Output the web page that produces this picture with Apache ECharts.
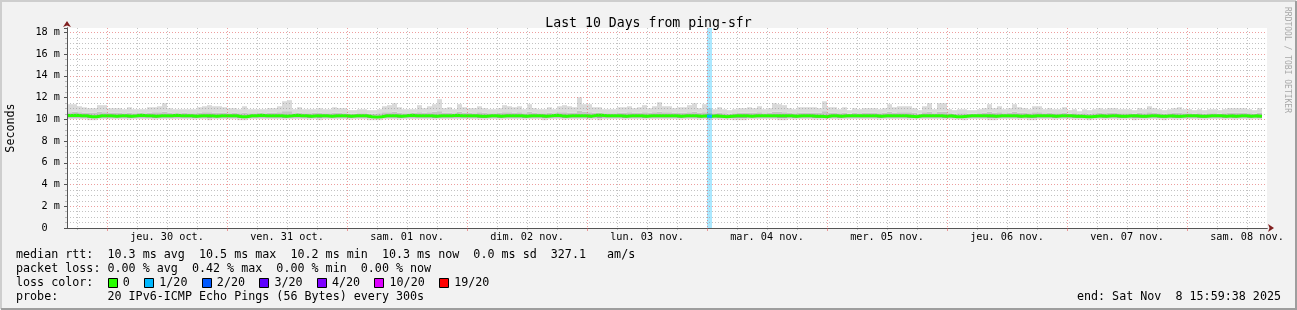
<!DOCTYPE html>
<html><head><meta charset="utf-8">
<script src="https://cdn.jsdelivr.net/npm/echarts@6/dist/echarts.min.js"></script>
<style>html,body{margin:0;padding:0;background:#f2f2f2;overflow:hidden}#c{width:1297px;height:310px}</style>
</head><body><div id="c"></div>
<script>
// ---------------- data ----------------
const chartTitle = 'Last 10 Days from ping-sfr';
const yAxisName = 'Seconds';
const dayLabels = ['jeu. 30 oct.', 'ven. 31 oct.', 'sam. 01 nov.', 'dim. 02 nov.', 'lun. 03 nov.',
  'mar. 04 nov.', 'mer. 05 nov.', 'jeu. 06 nov.', 'ven. 07 nov.', 'sam. 08 nov.'];
const startHourOfDay = 16;      // graph starts Wed 29 Oct ~16:00
const spanHours = 240;          // 10 days
const yMaxMs = 18.4;
const yStepMs = 2;

// hourly smoke (ms): top, upper-dense, lower-dense, bottom; median rtt
const smokeHi = [
 11.39,11.39,11.2,11.1,11.02,11.02,11.3,11.3,11.02,11.02,
 11.02,10.93,11.11,10.93,10.93,10.93,11.11,11.11,11.2,11.48,
 11.02,10.93,10.93,10.93,10.93,10.93,11.11,11.2,11.3,11.2,
 11.2,11.11,11.02,11.02,10.93,11.2,10.93,10.93,10.93,10.93,
 11.02,11.02,11.2,11.66,11.76,10.93,11.11,10.93,10.93,10.93,
 11.02,10.93,10.93,11.11,11.02,11.02,10.84,10.84,10.93,10.93,
 10.84,10.84,10.93,11.2,11.3,11.48,11.11,10.93,10.93,10.93,
 11.3,11.02,11.2,11.39,11.85,11.02,11.11,10.93,11.39,11.11,
 11.02,11.02,11.2,11.02,10.93,10.93,11.02,11.3,11.2,11.11,
 11.2,10.93,11.39,11.02,10.93,10.93,11.11,10.93,11.2,11.3,
 11.2,11.11,12.03,11.39,11.39,11.11,11.11,10.93,10.93,10.93,
 11.11,11.11,11.2,11.02,11.11,11.3,11.02,11.2,11.57,11.2,
 11.2,11.02,11.11,11.11,11.3,11.48,11.02,11.39,11.02,10.93,
 11.11,10.93,10.84,10.93,11.02,11.02,11.11,11.02,11.2,10.93,
 11.02,11.48,11.39,11.3,11.02,10.93,11.11,11.11,11.11,11.11,
 11.02,11.66,11.11,11.11,10.93,11.11,10.84,11.02,10.93,11.02,
 11.02,11.02,10.93,11.02,11.39,11.11,11.2,11.2,11.2,11.02,
 10.84,11.2,11.48,10.93,11.48,11.48,10.93,10.84,10.93,10.93,
 10.84,10.84,10.93,11.02,11.39,11.02,11.2,10.93,11.02,11.39,
 11.11,11.02,10.93,11.2,11.2,10.93,11.02,10.93,10.93,11.11,
 10.84,10.93,10.74,10.93,10.84,10.93,11.02,10.93,11.02,11.02,
 10.93,10.93,10.93,10.84,11.02,10.93,11.2,11.02,10.93,10.84,
 10.93,11.02,11.11,10.93,10.93,10.84,10.93,10.84,10.93,10.93,
 10.84,10.93,11.02,11.02,11.02,11.02,10.93,10.84,11.02];
const smokeQ3 = [
 10.65,10.7,10.65,10.6,10.6,10.6,10.7,10.65,10.6,10.6,
 10.6,10.56,10.6,10.56,10.6,10.56,10.6,10.65,10.65,10.7,
 10.6,10.56,10.56,10.6,10.56,10.56,10.6,10.65,10.65,10.6,
 10.6,10.6,10.56,10.6,10.56,10.6,10.56,10.56,10.6,10.56,
 10.6,10.6,10.65,10.75,10.75,10.56,10.6,10.56,10.56,10.6,
 10.6,10.56,10.56,10.6,10.6,10.56,10.52,10.52,10.56,10.56,
 10.52,10.52,10.56,10.65,10.65,10.7,10.6,10.56,10.56,10.6,
 10.65,10.6,10.65,10.7,10.75,10.6,10.6,10.56,10.7,10.6,
 10.6,10.56,10.65,10.6,10.56,10.56,10.6,10.65,10.65,10.6,
 10.65,10.56,10.7,10.6,10.56,10.56,10.6,10.56,10.65,10.65,
 10.6,10.6,10.8,10.7,10.65,10.6,10.6,10.56,10.56,10.56,
 10.6,10.6,10.65,10.6,10.6,10.65,10.6,10.65,10.7,10.65,
 10.65,10.6,10.6,10.6,10.65,10.7,10.6,10.65,10.6,10.56,
 10.6,10.56,10.52,10.56,10.6,10.6,10.6,10.6,10.65,10.56,
 10.6,10.7,10.7,10.65,10.6,10.56,10.6,10.6,10.6,10.6,
 10.6,10.75,10.6,10.6,10.56,10.6,10.52,10.6,10.56,10.6,
 10.6,10.6,10.56,10.6,10.7,10.6,10.65,10.65,10.65,10.6,
 10.52,10.65,10.7,10.56,10.7,10.7,10.56,10.52,10.56,10.56,
 10.52,10.52,10.56,10.6,10.7,10.6,10.65,10.56,10.6,10.7,
 10.6,10.6,10.56,10.65,10.65,10.56,10.6,10.56,10.56,10.6,
 10.52,10.56,10.5,10.56,10.52,10.56,10.6,10.56,10.6,10.6,
 10.56,10.56,10.56,10.52,10.6,10.56,10.65,10.6,10.56,10.52,
 10.56,10.6,10.6,10.56,10.56,10.52,10.56,10.52,10.56,10.56,
 10.52,10.56,10.6,10.6,10.6,10.6,10.56,10.52,10.6];
const smokeQ1 = [
 10.15,10.15,10.15,10.15,10.1,10.1,10.15,10.15,10.15,10.15,
 10.15,10.15,10.12,10.15,10.15,10.15,10.15,10.12,10.15,10.15,
 10.15,10.15,10.15,10.15,10.15,10.12,10.15,10.15,10.1,10.15,
 10.15,10.15,10.15,10.15,10.1,10.1,10.15,10.15,10.15,10.15,
 10.15,10.15,10.15,10.12,10.15,10.15,10.15,10.15,10.12,10.15,
 10.1,10.15,10.15,10.15,10.15,10.15,10.12,10.15,10.15,10.15,
 10.1,10.1,10.1,10.15,10.15,10.15,10.12,10.15,10.15,10.15,
 10.15,10.15,10.15,10.12,10.15,10.15,10.15,10.15,10.15,10.15,
 10.15,10.15,10.12,10.12,10.15,10.15,10.12,10.15,10.15,10.15,
 10.15,10.12,10.15,10.15,10.15,10.1,10.15,10.15,10.15,10.12,
 10.15,10.15,10.15,10.15,10.12,10.15,10.1,10.15,10.15,10.15,
 10.15,10.12,10.15,10.15,10.15,10.12,10.15,10.15,10.15,10.15,
 10.15,10.15,10.12,10.15,10.15,10.15,10.12,10.15,10.12,10.15,
 10.12,10.12,10.12,10.1,10.1,10.1,10.15,10.15,10.15,10.15,
 10.15,10.15,10.1,10.1,10.15,10.12,10.15,10.15,10.15,10.12,
 10.12,10.12,10.15,10.15,10.12,10.15,10.15,10.15,10.15,10.15,
 10.15,10.15,10.12,10.15,10.15,10.15,10.15,10.15,10.12,10.12,
 10.15,10.15,10.15,10.15,10.15,10.12,10.15,10.12,10.12,10.1,
 10.15,10.15,10.15,10.15,10.1,10.1,10.15,10.15,10.15,10.15,
 10.12,10.15,10.1,10.1,10.15,10.15,10.15,10.12,10.15,10.15,
 10.15,10.12,10.12,10.12,10.1,10.12,10.15,10.12,10.15,10.15,
 10.12,10.12,10.15,10.1,10.12,10.12,10.15,10.15,10.12,10.1,
 10.15,10.12,10.12,10.15,10.15,10.15,10.12,10.12,10.15,10.15,
 10.15,10.12,10.15,10.12,10.15,10.15,10.12,10.15,10.12];
const smokeLo = [
 10.01,10.01,10.01,10.01,9.92,9.92,10.01,10.01,10.01,10.01,
 10.01,10.01,9.97,10.01,10.01,10.01,10.01,9.97,10.01,10.01,
 10.01,10.01,10.01,10.01,10.01,9.97,10.01,10.01,9.92,10.01,
 10.01,10.01,10.01,10.01,9.92,9.92,10.01,10.01,10.01,10.01,
 10.01,10.01,10.01,9.97,10.01,10.01,10.01,10.01,9.97,10.01,
 9.92,10.01,10.01,10.01,10.01,10.01,9.97,10.01,10.01,10.01,
 9.92,9.92,9.92,10.01,10.01,10.01,9.97,10.01,10.01,10.01,
 10.01,10.01,10.01,9.97,10.01,10.01,10.01,10.01,10.01,10.01,
 10.01,10.01,9.97,9.97,10.01,10.01,9.97,10.01,10.01,10.01,
 10.01,9.97,10.01,10.01,10.01,9.92,10.01,10.01,10.01,9.97,
 10.01,10.01,10.01,10.01,9.97,10.01,9.92,10.01,10.01,10.01,
 10.01,9.97,10.01,10.01,10.01,9.97,10.01,10.01,10.01,10.01,
 10.01,10.01,9.97,10.01,10.01,10.01,9.97,10.01,9.97,10.01,
 9.97,9.97,9.97,9.92,9.92,9.92,10.01,10.01,10.01,10.01,
 10.01,10.01,9.92,9.92,10.01,9.97,10.01,10.01,10.01,9.97,
 9.97,9.97,10.01,10.01,9.97,10.01,10.01,10.01,10.01,10.01,
 10.01,10.01,9.97,10.01,10.01,10.01,10.01,10.01,9.97,9.97,
 10.01,10.01,10.01,10.01,10.01,9.97,10.01,9.97,9.97,9.92,
 10.01,10.01,10.01,10.01,9.92,9.92,10.01,10.01,10.01,10.01,
 9.97,10.01,9.92,9.92,10.01,10.01,10.01,9.97,10.01,10.01,
 10.01,9.97,9.97,9.97,9.92,9.97,10.01,9.97,10.01,10.01,
 9.97,9.97,10.01,9.92,9.97,9.97,10.01,10.01,9.97,9.92,
 10.01,9.97,9.97,10.01,10.01,10.01,9.97,9.97,10.01,10.01,
 10.01,9.97,10.01,9.97,10.01,10.01,9.97,10.01,9.97];
const medianRtt = [
 10.35,10.38,10.33,10.33,10.24,10.24,10.33,10.33,10.33,10.29,
 10.33,10.33,10.29,10.33,10.38,10.33,10.33,10.29,10.33,10.33,
 10.33,10.38,10.33,10.33,10.33,10.29,10.33,10.33,10.33,10.29,
 10.33,10.33,10.33,10.33,10.24,10.24,10.33,10.33,10.38,10.33,
 10.33,10.33,10.33,10.29,10.33,10.38,10.33,10.33,10.29,10.33,
 10.33,10.33,10.29,10.33,10.33,10.33,10.29,10.33,10.33,10.33,
 10.24,10.2,10.24,10.33,10.33,10.33,10.29,10.33,10.38,10.33,
 10.33,10.33,10.33,10.29,10.33,10.33,10.33,10.38,10.33,10.33,
 10.33,10.33,10.29,10.29,10.33,10.33,10.29,10.33,10.33,10.33,
 10.33,10.29,10.33,10.33,10.33,10.29,10.33,10.38,10.33,10.29,
 10.33,10.33,10.33,10.33,10.29,10.38,10.38,10.33,10.33,10.33,
 10.33,10.29,10.33,10.33,10.33,10.29,10.33,10.33,10.33,10.33,
 10.33,10.33,10.29,10.33,10.33,10.33,10.29,10.33,10.29,10.33,
 10.29,10.24,10.29,10.33,10.33,10.33,10.29,10.33,10.33,10.33,
 10.33,10.33,10.33,10.33,10.33,10.29,10.33,10.33,10.33,10.29,
 10.29,10.24,10.33,10.33,10.29,10.33,10.33,10.33,10.33,10.33,
 10.33,10.33,10.29,10.33,10.33,10.33,10.33,10.33,10.29,10.24,
 10.33,10.33,10.33,10.33,10.33,10.29,10.33,10.24,10.24,10.29,
 10.33,10.33,10.33,10.33,10.33,10.29,10.33,10.33,10.33,10.33,
 10.29,10.33,10.29,10.33,10.33,10.33,10.33,10.29,10.33,10.33,
 10.33,10.29,10.29,10.24,10.24,10.29,10.33,10.29,10.33,10.33,
 10.29,10.29,10.33,10.33,10.29,10.29,10.33,10.33,10.29,10.29,
 10.33,10.29,10.29,10.33,10.33,10.33,10.29,10.29,10.33,10.33,
 10.33,10.29,10.33,10.29,10.33,10.33,10.29,10.33,10.29];
// packet loss events: hour index and number of lost pings (of 20)
const lossHours = [128];
const lossCounts = [1];

const lossLegendLabels = ['0', '1/20', '2/20', '3/20', '4/20', '10/20', '19/20'];
const lossLegendCounts = [0, 1, 2, 3, 4, 10, 19];
const lossLegendColors = ['#26ff00', '#00b8ff', '#0059ff', '#5e00ff', '#7e00ff', '#dd00ff', '#ff0000'];

const legendLines = [
  'median rtt:  10.3 ms avg  10.5 ms max  10.2 ms min  10.3 ms now  0.0 ms sd  327.1   am/s',
  'packet loss: 0.00 % avg  0.42 % max  0.00 % min  0.00 % now',
  'loss color:',
  'probe:       20 IPv6-ICMP Echo Pings (56 Bytes) every 300s'
];
const endText = 'end: Sat Nov  8 15:59:38 2025';
const watermark = 'RRDTOOL / TOBI OETIKER';

// ---------------- build ----------------
const MONO = "'DejaVu Sans Mono', monospace";
const N = smokeHi.length;
const midnights = [], noons = [], sixHours = [];
for (let h = 0; h <= spanHours; h++) {
  const hod = (h + startHourOfDay) % 24;
  if (hod === 0 && h > 0) midnights.push(h);
  else if (hod % 6 === 0 && h > 0 && h < spanHours) sixHours.push(h);
  if (hod === 12) noons.push(h);
}
function colorForLoss(c) {
  let idx = 0;
  for (let k = 0; k < lossLegendCounts.length; k++) if (c >= lossLegendCounts[k]) idx = k;
  return lossLegendColors[idx];
}
function hexAlpha(hex, a) {
  const r = parseInt(hex.slice(1, 3), 16), g = parseInt(hex.slice(3, 5), 16), b = parseInt(hex.slice(5, 7), 16);
  return 'rgba(' + r + ',' + g + ',' + b + ',' + a + ')';
}
const smokeLight = '#dadada', smokeMid = '#c4c4c4', smokeDark = '#a6a6a6';

const smokeData = smokeHi.map((v, i) => [i, smokeLo[i], smokeQ1[i], smokeQ3[i], v, medianRtt[i]]);
function renderSmoke(params, api) {
  const x = api.value(0);
  const lo = api.coord([x, api.value(1)]);
  const q1 = api.coord([x, api.value(2)]);
  const q3 = api.coord([x, api.value(3)]);
  const hi = api.coord([x, api.value(4)]);
  const md = api.coord([x, api.value(5)]);
  const x1 = api.coord([x + 1, api.value(1)])[0];
  const w = x1 - lo[0];
  return { type: 'group', children: [
    { type: 'rect', shape: { x: lo[0], y: q1[1], width: w, height: lo[1] - q1[1] }, style: { fill: smokeLight } },
    { type: 'rect', shape: { x: lo[0], y: md[1], width: w, height: q1[1] - md[1] }, style: { fill: smokeDark } },
    { type: 'rect', shape: { x: lo[0], y: q3[1], width: w, height: md[1] - q3[1] }, style: { fill: smokeMid } },
    { type: 'rect', shape: { x: lo[0], y: hi[1], width: w, height: q3[1] - hi[1] }, style: { fill: smokeLight } }
  ] };
}
function renderLoss(params, api) {
  const x = api.value(0);
  const a = api.coord([x, api.value(1)]);
  const b = api.coord([x + 1, 0]);
  return { type: 'rect', shape: { x: a[0], y: a[1], width: b[0] - a[0], height: b[1] - a[1] },
    style: { fill: hexAlpha(colorForLoss(api.value(2)), 0.33) } };
}

const series = [
  { type: 'custom', renderItem: renderSmoke, z: 2, silent: true, clip: true,
    encode: { x: 0, y: [1, 4] }, data: smokeData },
  { type: 'custom', renderItem: renderLoss, z: 3, silent: true, clip: true,
    encode: { x: 0, y: 1 }, data: lossHours.map((h, k) => [h, yMaxMs, lossCounts[k]]) },
  { type: 'line', step: 'end', symbol: 'none', z: 4, silent: true,
    lineStyle: { width: 3, color: lossLegendColors[0] },
    data: medianRtt.map((v, i) => [i, v]).concat([[N, medianRtt[N - 1]]]) }
];
lossHours.forEach((h, k) => {
  series.push({ type: 'line', step: 'end', symbol: 'none', z: 5, silent: true,
    lineStyle: { width: 3, color: colorForLoss(lossCounts[k]) },
    data: [[h, medianRtt[h]], [h + 1, medianRtt[h]]] });
});

const charW = 0.602 * 11.7;
const graphics = [];
graphics.push({ type: 'polyline', silent: true, shape: { points: [[1, 309], [1, 1], [1296, 1]] }, style: { stroke: '#cecece', lineWidth: 2, fill: null } });
graphics.push({ type: 'polyline', silent: true, shape: { points: [[1, 309], [1296, 309], [1296, 1]] }, style: { stroke: '#9e9e9e', lineWidth: 2, fill: null } });
legendLines.forEach((t, i) => {
  graphics.push({ type: 'text', x: 16, y: 255 + 14 * i, silent: true,
    style: { text: t, font: '11.7px ' + MONO, fill: '#000', verticalAlign: 'middle', align: 'left' } });
});
graphics.push({ type: 'text', x: 1281, y: 297, silent: true,
  style: { text: endText, font: '11.7px ' + MONO, fill: '#000', verticalAlign: 'middle', align: 'right' } });
let cx = 16 + 13 * charW;
lossLegendLabels.forEach((lab, i) => {
  graphics.push({ type: 'rect', silent: true, shape: { x: Math.round(cx) + 0.5, y: 278.5, width: 9, height: 9 },
    style: { fill: lossLegendColors[i], stroke: '#000', lineWidth: 1 } });
  const tx = cx + 15.3;
  graphics.push({ type: 'text', x: tx, y: 283, silent: true,
    style: { text: lab, font: '11.7px ' + MONO, fill: '#000', verticalAlign: 'middle', align: 'left' } });
  cx = tx + lab.length * charW + 2 * charW;
});
graphics.push({ type: 'text', x: 1287, y: 60, rotation: -Math.PI / 2, silent: true,
  style: { text: watermark, font: '8px ' + MONO, fill: '#a8a8a8', align: 'center', verticalAlign: 'middle' } });

const majorGrid = 'rgba(222,79,79,0.55)';
const minorGrid = 'rgba(143,143,143,0.55)';
const axisCol = '#555555';
const arrowCol = '#801f1f';

const option = {
  animation: false,
  backgroundColor: '#f2f2f2',
  title: { text: chartTitle, left: 'center', top: 12,
    textStyle: { fontFamily: MONO, fontSize: 13.2, fontWeight: 'normal', color: '#000' } },
  grid: { left: 67, right: 30, top: 28, bottom: 82, show: true, backgroundColor: '#ffffff', borderWidth: 0,
    containLabel: false, outerBoundsMode: 'none' },
  xAxis: [
    { type: 'value', min: 0, max: spanHours, position: 'bottom', z: 5,
      axisLine: { show: true, lineStyle: { color: axisCol, width: 1 } },
      axisTick: { show: true, customValues: midnights, length: 3, lineStyle: { color: majorGrid } },
      axisLabel: { customValues: noons, margin: 4, fontFamily: MONO, fontSize: 10.2, color: '#000',
        formatter: v => dayLabels[noons.indexOf(v)] || '' },
      splitLine: { show: true, lineStyle: { color: majorGrid, type: [1, 2], width: 1 } } },
    { type: 'value', min: 0, max: spanHours, position: 'bottom', z: 1,
      axisLine: { show: false },
      axisTick: { show: true, customValues: sixHours, length: 2, lineStyle: { color: minorGrid } },
      axisLabel: { show: false },
      splitLine: { show: true, lineStyle: { color: minorGrid, type: [1, 2], width: 1 } } },
    { type: 'value', min: 0, max: spanHours, position: 'bottom', z: 4,
      axisLine: { show: true, symbol: ['none', 'arrow'], symbolSize: [6, 6], symbolOffset: [0, 7],
        lineStyle: { color: arrowCol, width: 1 } },
      axisTick: { show: false }, axisLabel: { show: false }, splitLine: { show: false } }
  ],
  yAxis: [
    { type: 'value', min: 0, max: yMaxMs, interval: yStepMs, position: 'left', z: 5,
      name: yAxisName, nameLocation: 'middle', nameGap: 50, nameRotate: 90,
      nameTextStyle: { fontFamily: MONO, fontSize: 11.7, color: '#000' },
      axisLine: { show: true, lineStyle: { color: axisCol, width: 1 } },
      axisTick: { show: true, length: 3, lineStyle: { color: axisCol } },
      minorTick: { show: true, splitNumber: 4, length: 2, lineStyle: { color: minorGrid } },
      axisLabel: { margin: 7, fontFamily: MONO, fontSize: 10.2, color: '#000', showMaxLabel: false,
        formatter: v => (v === 0 ? '0  ' : v + ' m') },
      splitLine: { show: true, showMaxLine: false, lineStyle: { color: majorGrid, type: [1, 2], width: 1 } },
      minorSplitLine: { show: true, lineStyle: { color: minorGrid, type: [1, 2], width: 1 } } },
    { type: 'value', min: 0, max: yMaxMs, position: 'left', offset: 0, z: 4,
      axisLine: { show: true, symbol: ['none', 'arrow'], symbolSize: [6, 6], symbolOffset: [0, 7],
        lineStyle: { color: arrowCol, width: 1 } },
      axisTick: { show: false }, axisLabel: { show: false }, splitLine: { show: false } }
  ],
  series: series,
  graphic: graphics
};
const chart = echarts.init(document.getElementById('c'), null, { renderer: 'canvas' });
chart.setOption(option);
</script>
</body></html>
